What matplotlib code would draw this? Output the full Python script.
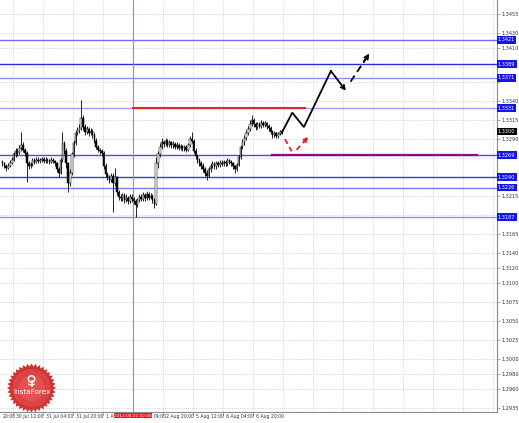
import numpy as np
import matplotlib
matplotlib.use("Agg")
import matplotlib.pyplot as plt
from matplotlib.patches import Polygon, Circle
from matplotlib.transforms import ScaledTranslation

# EURUSD H1 candles, values in pips above 1.3000, bar 0 = 30 Jul 04:00
first_open = 260
closes = [258, 255, 252, 255, 259, 263, 270, 275, 272, 278,
          283, 276, 272, 258, 255, 257, 262, 260, 263, 261,
          262, 264, 261, 263, 262, 260, 263, 261, 258, 250,
          246, 262, 285, 275, 258, 232, 245, 270, 285, 298,
          302, 305, 318, 306, 300, 303, 298, 301, 296, 288,
          280, 276, 274, 272, 255, 244, 240, 236, 242, 232,
          240, 220, 214, 212, 216, 210, 213, 209, 214, 211,
          208, 203, 210, 214, 211, 216, 212, 218, 213, 215,
          210, 205, 258, 270, 280, 286, 284, 288, 283, 286,
          282, 284, 280, 283, 279, 281, 278, 280, 276, 282,
          290, 288, 275, 268, 262, 258, 255, 250, 245, 242,
          250, 255, 257, 254, 258, 256, 259, 257, 260, 258,
          262, 260, 258, 254, 250, 256, 266, 280, 286, 292,
          298, 304, 310, 315, 310, 306, 310, 308, 312, 309,
          311, 307, 305, 300, 296, 298, 294, 297, 299, 301]
highs = [263, 260, 257, 258, 262, 266, 273, 279, 278, 282,
         299, 286, 279, 275, 261, 260, 265, 265, 266, 266,
         265, 267, 266, 266, 265, 264, 266, 265, 263, 260,
         253, 265, 299, 288, 278, 260, 250, 273, 289, 302,
         306, 310, 342, 322, 310, 307, 306, 305, 303, 299,
         291, 283, 279, 277, 274, 258, 247, 243, 246, 245,
         252, 242, 223, 218, 219, 219, 217, 215, 217, 217,
         214, 211, 213, 218, 217, 220, 219, 221, 220, 219,
         217, 212, 266, 275, 285, 291, 289, 291, 290, 289,
         288, 287, 286, 286, 285, 284, 283, 283, 282, 285,
         294, 299, 290, 278, 271, 265, 261, 258, 253, 249,
         253, 258, 261, 260, 261, 261, 262, 262, 263, 263,
         265, 264, 262, 260, 256, 259, 269, 283, 290, 296,
         302, 308, 315, 322, 318, 313, 313, 313, 315, 314,
         314, 313, 310, 307, 302, 301, 300, 300, 302, 303]
lows = [255, 252, 248, 250, 253, 257, 261, 267, 268, 270,
        275, 273, 268, 233, 250, 252, 255, 257, 258, 258,
        259, 260, 258, 259, 259, 257, 258, 258, 254, 247,
        240, 244, 260, 270, 252, 220, 228, 243, 267, 282,
        295, 298, 302, 302, 296, 297, 294, 295, 292, 285,
        277, 273, 271, 268, 251, 240, 236, 232, 233, 194,
        228, 216, 210, 208, 209, 206, 207, 205, 206, 207,
        204, 187, 200, 207, 208, 209, 209, 210, 210, 211,
        206, 199, 203, 252, 266, 277, 280, 281, 280, 280,
        279, 279, 277, 277, 276, 276, 275, 275, 273, 274,
        280, 285, 272, 264, 258, 254, 251, 247, 241, 236,
        240, 247, 252, 251, 251, 253, 253, 254, 254, 255,
        255, 257, 255, 250, 245, 248, 254, 264, 277, 283,
        289, 295, 301, 307, 306, 302, 303, 305, 305, 306,
        306, 304, 301, 297, 292, 293, 291, 291, 295, 297]

blue_levels = [1.3421, 1.3389, 1.3371, 1.3331, 1.3269, 1.3240, 1.3226, 1.3187]
blue_colors = ["#6f6ff0", "#2b2bdc", "#8c8cff", "#9a9aff",
               "#4a4aee", "#3a3ad0", "#7a7af0", "#8c8cff"]
last_price = 1.3300

price_ticks = [1.3455, 1.3430, 1.3410, 1.3385, 1.3365, 1.3340, 1.3315, 1.3290,
               1.3265, 1.3240, 1.3215, 1.3190, 1.3165, 1.3140, 1.3120, 1.3100,
               1.3075, 1.3050, 1.3025, 1.3000, 1.2980, 1.2960, 1.2935]
# labels partly hidden by the red date box, as on the terminal
time_labels = ["20:00", "30 Jul 12:00", "31 Jul 04:00", "31 Jul 20:00",
               "1 A", "", "2 Aug 20:00", "5 Aug 12:00",
               "6 Aug 04:00", "6 Aug 20:00"]
grid_bars = [-10.4 + 16 * k for k in range(18)]
tail_label, tail_bar = "04:00", 80.6

red_line_bar = 69.6
red_line_label = "2013.08.02 02:00"
resist_level, resist_from, resist_to = 1.3331, 69.6, 161.4
purple_level, purple_from, purple_to = 1.3269, 143.8, 253.1

# forecast paths
path_x = [148.9, 154.6, 160.8, 175.2, 183.2]
path_y = [1.3298, 1.3325, 1.3306, 1.3380, 1.3354]
alt_x = [185.7, 195.7]
alt_y = [1.3366, 1.3403]
red_dn_x = [150.7, 154.3]
red_dn_y = [1.3290, 1.3274]
red_up_x = [156.9, 163.1]
red_up_y = [1.3276, 1.3293]

small = dict(fontsize=3.3, family=["Liberation Sans Narrow", "DejaVu Sans"])

W, H = 519, 423
fig = plt.figure(figsize=(W / 100, H / 100), dpi=100)
fig.patch.set_facecolor("white")
ax = fig.add_axes([0, 11 / H, 497 / W, 412 / H])
ax.set_xlim(-1.3, 263.8)
ax.set_ylim(1.29298, 1.34738)

# candles
c = np.array(closes) / 1e4 + 1.3
o = np.concatenate([[first_open / 1e4 + 1.3], c[:-1]])
hi = np.array(highs) / 1e4 + 1.3
lo = np.array(lows) / 1e4 + 1.3
x = np.arange(len(c))
ax.vlines(x, lo, hi, color="black", lw=0.6, zorder=4)
bull = c >= o
ax.bar(x[bull], (c - o)[bull], bottom=o[bull], width=0.75, color="white",
       edgecolor="black", lw=0.35, zorder=5)
ax.bar(x[~bull], (c - o)[~bull], bottom=o[~bull], width=0.75, color="black",
       edgecolor="black", lw=0.35, zorder=5)

# grid
for p in price_ticks:
    ax.axhline(p, color="#c8c8c8", lw=0.5, ls=(0, (1.5, 1.5)), zorder=1)
for g in grid_bars:
    ax.axvline(g, color="#c8c8c8", lw=0.5, ls=(0, (1.5, 1.5)), zorder=1)

# levels
for lvl, col in zip(blue_levels, blue_colors):
    ax.axhline(lvl, color=col, lw=1.0, zorder=2)
ax.axvline(red_line_bar, color="#f07070", lw=0.8, zorder=2)
ax.plot([resist_from, resist_to], [resist_level] * 2, color="#e02828", lw=1.5, zorder=3)
ax.plot([purple_from, purple_to], [purple_level] * 2, color="#8a0a8a", lw=1.6, zorder=3)

# forecast
ax.plot(path_x[:-1], path_y[:-1], color="black", lw=1.3, zorder=6,
        solid_joinstyle="miter")
ax.annotate("", xy=(path_x[-1], path_y[-1]), xytext=(path_x[-2], path_y[-2]),
            arrowprops=dict(arrowstyle="->", color="black", lw=1.3,
                            mutation_scale=7, shrinkA=0, shrinkB=0), zorder=6)
ax.plot(alt_x, alt_y, color="black", lw=1.3, ls=(0, (4, 2.5)), zorder=6)
ax.annotate("", xy=(alt_x[1], alt_y[1]),
            xytext=(alt_x[1] - 0.3 * (alt_x[1] - alt_x[0]), alt_y[1] - 0.3 * (alt_y[1] - alt_y[0])),
            arrowprops=dict(arrowstyle="->", color="black", lw=1.3,
                            mutation_scale=7, shrinkA=0, shrinkB=0), zorder=6)
ax.plot(red_dn_x, red_dn_y, color="#e82020", lw=1.3, ls=(0, (3, 2)), zorder=6)
ax.plot(red_up_x, red_up_y, color="#e82020", lw=1.3, ls=(0, (3, 2)), zorder=6)
ax.annotate("", xy=(red_up_x[1], red_up_y[1]),
            xytext=(red_up_x[1] - 0.35 * (red_up_x[1] - red_up_x[0]),
                    red_up_y[1] - 0.35 * (red_up_y[1] - red_up_y[0])),
            arrowprops=dict(arrowstyle="->", color="#e82020", lw=1.3,
                            mutation_scale=6, shrinkA=0, shrinkB=0), zorder=6)

# axes frame
for s in ["top", "left"]:
    ax.spines[s].set_visible(False)
for s in ["right", "bottom"]:
    ax.spines[s].set_color("#8a8a8a")
    ax.spines[s].set_linewidth(0.8)
ax.set_xticks([])
ax.yaxis.tick_right()
ax.set_yticks(price_ticks)
boxed = blue_levels + [last_price]
ax.set_yticklabels(["" if min(abs(p - b) for b in boxed) < 0.0006 else f"{p:.4f}"
                    for p in price_ticks], fontsize=3.6, color="#333333")
ax.tick_params(axis="y", length=2, width=0.5, pad=1.5, color="#8a8a8a")

# time labels
shift = ScaledTranslation(3.5 / 100, 0, fig.dpi_scale_trans)
xtr = ax.get_xaxis_transform()
for g, lab in zip(grid_bars, time_labels):
    ax.plot([g, g], [0, -0.008], transform=xtr, color="#8a8a8a", lw=0.5, clip_on=False)
    if g < 0:
        ax.text(0, -0.005, lab, transform=xtr, ha="left", va="top",
                color="#333333", clip_on=False, **small)
    else:
        ax.text(g, -0.005, lab, transform=xtr + shift, ha="left", va="top",
                color="#333333", clip_on=False, **small)
ax.text(tail_bar, -0.005, tail_label, transform=xtr, ha="left", va="top",
        color="#333333", clip_on=False, **small)
ax.text(red_line_bar, -0.004, red_line_label, transform=xtr,
        ha="center", va="top", color="white", zorder=8, clip_on=False,
        fontsize=3.1, family=["Liberation Sans Narrow", "DejaVu Sans"],
        bbox=dict(boxstyle="square,pad=0.12", fc="#ff1010", ec="none"))

# price boxes
ytr = ax.get_yaxis_transform()
for lvl in blue_levels:
    ax.text(1.002, lvl, f"{lvl:.4f}", transform=ytr, ha="left", va="center",
            fontsize=3.6, color="white", zorder=8, clip_on=False,
            bbox=dict(boxstyle="square,pad=0.25", fc="#1414f0", ec="none"))
ax.text(1.002, last_price, f"{last_price:.4f}", transform=ytr, ha="left", va="center",
        fontsize=3.6, color="white", zorder=8, clip_on=False,
        bbox=dict(boxstyle="square,pad=0.25", fc="black", ec="none"))

# InstaForex badge
lg = fig.add_axes([0, 0, 1, 1], zorder=10)
lg.set_xlim(0, W)
lg.set_ylim(H, 0)
lg.axis("off")
cx, cy = 31.5, 388
ang = np.linspace(0, 2 * np.pi, 72, endpoint=False)
rad = np.where(np.arange(72) % 2 == 0, 24.5, 21.5)
lg.add_patch(Polygon(np.c_[cx + rad * np.cos(ang), cy + rad * np.sin(ang)],
                     closed=True, fc="#cf3434", ec="none"))
lg.add_patch(Circle((cx, cy), 19, fc="#dc4444", ec="none"))
lg.add_patch(Circle((cx, cy), 13, fc="#e25252", ec="none"))
lg.add_patch(Circle((cx, cy - 9), 3.2, fc="none", ec="white", lw=1.0))
lg.plot([cx, cx], [cy - 7, cy - 1.5], color="white", lw=1.2)
lg.plot([cx - 3, cx, cx + 3], [cy - 4, cy - 2.5, cy - 4], color="white", lw=0.8)
lg.text(cx, cy + 4, "InstaForex", color="white", fontsize=5.2, ha="center", va="center")

fig.savefig("out.png", dpi=100)
